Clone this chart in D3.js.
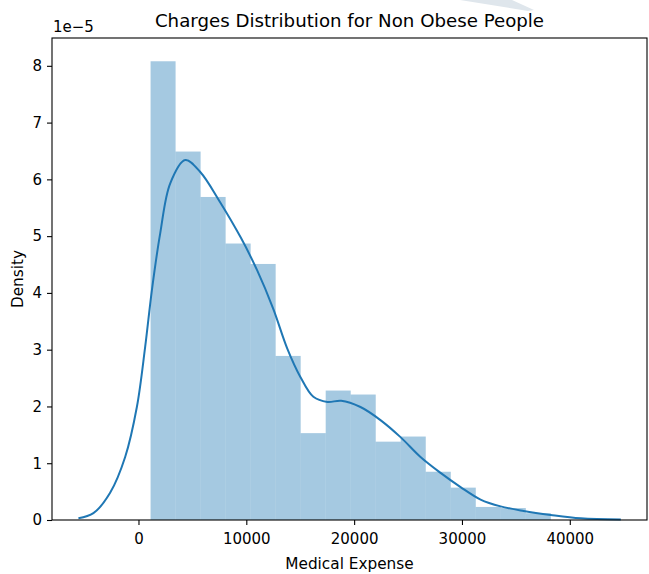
<!DOCTYPE html>
<html>
<head>
<meta charset="utf-8">
<script src="https://cdn.jsdelivr.net/npm/d3@7"></script>
<style>
  body { margin: 0; background: #fff; }
  svg { display: block; }
  text { font-family: "DejaVu Sans", sans-serif; fill: #000; }
</style>
</head>
<body>
<svg id="chart" width="649" height="574"></svg>
<script>
// histogram bins (charges) and heights, density in units of 1e-5
var binEdges = [1122, 3442, 5762, 8082, 10402, 12722, 15042, 17362, 19682,
                22002, 24322, 26642, 28962, 31282, 33602, 35922, 38242];
var binDensity = [8.08, 6.49, 5.69, 4.87, 4.51, 2.89, 1.53, 2.28,
                  2.21, 1.38, 1.47, 0.85, 0.57, 0.23, 0.21, 0.12];

// kde curve
var kdeX = [-5570, -4180, -2630, -1235, -150, 620, 1245, 2015, 2945, 4340, 5730,
            7500, 9500, 11000, 12500, 13800, 15015, 16220, 17520, 18800, 20585,
            22440, 24300, 26155, 28015, 29870, 31725, 33585, 35720, 38225, 41010, 44730];
var kdeY = [0.03, 0.12, 0.48, 1.11, 1.99, 3.05, 4.05, 5.05, 5.93, 6.34, 6.13,
            5.62, 4.97, 4.40, 3.72, 3.02, 2.52, 2.17, 2.08, 2.10, 1.99,
            1.76, 1.46, 1.11, 0.83, 0.58, 0.36, 0.24, 0.16, 0.09, 0.03, 0.01];

var xTicks = [0, 10000, 20000, 30000, 40000];
var yTicks = [0, 1, 2, 3, 4, 5, 6, 7, 8];

var margin = {top: 38, right: 2, bottom: 54, left: 52};
var W = 649, H = 574;
var width = W - margin.left - margin.right;
var height = H - margin.top - margin.bottom;

var svg = d3.select("#chart");

// faint artifact at the top of the screenshot
svg.append("path")
    .attr("d", "M460,0 L512,0 L534,10 L528,11 Z")
    .attr("fill", "#dfe6ec");

var g = svg.append("g")
    .attr("transform", "translate(" + margin.left + "," + margin.top + ")");

var x = d3.scaleLinear().domain([-8020, 47160]).range([0, width]);
var y = d3.scaleLinear().domain([0, 8.49]).range([height, 0]);

// bars
var bins = binDensity.map(function(v, i){
    return {x0: binEdges[i], x1: binEdges[i + 1], v: v};
});
g.selectAll("rect.bar")
    .data(bins)
  .enter().append("rect")
    .attr("class", "bar")
    .attr("x", function(d){ return x(d.x0); })
    .attr("width", function(d){ return x(d.x1) - x(d.x0); })
    .attr("y", function(d){ return y(d.v); })
    .attr("height", function(d){ return y(0) - y(d.v); })
    .attr("fill", "#1f77b4")
    .attr("fill-opacity", 0.4);

// kde line
var kde = kdeX.map(function(v, i){ return [v, kdeY[i]]; });
var line = d3.line()
    .x(function(d){ return x(d[0]); })
    .y(function(d){ return y(d[1]); })
    .curve(d3.curveCatmullRom.alpha(0.5));
g.append("path")
    .datum(kde)
    .attr("fill", "none")
    .attr("stroke", "#1f77b4")
    .attr("stroke-width", 2)
    .attr("d", line);

// axes
var xAxis = g.append("g")
    .attr("transform", "translate(0," + height + ")")
    .call(d3.axisBottom(x).tickValues(xTicks).tickFormat(d3.format("d"))
        .tickSizeOuter(0).tickSize(5).tickPadding(8));
var yAxis = g.append("g")
    .call(d3.axisLeft(y).tickValues(yTicks).tickFormat(d3.format("d"))
        .tickSizeOuter(0).tickSize(5).tickPadding(5));
[xAxis, yAxis].forEach(function(a){
    a.select(".domain").remove();
    a.selectAll("text").style("font-size", "15px").style("font-family", "DejaVu Sans").attr("fill", "#000");
    a.selectAll("line").attr("stroke", "#000").attr("stroke-width", 1.1);
});

// frame
g.append("rect")
    .attr("x", 0).attr("y", 0)
    .attr("width", width).attr("height", height)
    .attr("fill", "none")
    .attr("stroke", "#000")
    .attr("stroke-width", 1.1);

// labels
svg.append("text")
    .attr("x", margin.left + width / 2).attr("y", 27)
    .attr("text-anchor", "middle")
    .style("font-size", "18.2px")
    .text("Charges Distribution for Non Obese People");

svg.append("text")
    .attr("x", margin.left + 1).attr("y", 32)
    .style("font-size", "15px")
    .text("1e\u22125");

svg.append("text")
    .attr("x", margin.left + width / 2).attr("y", 569)
    .attr("text-anchor", "middle")
    .style("font-size", "15.3px")
    .text("Medical Expense");

svg.append("text")
    .attr("transform", "translate(23," + (margin.top + height / 2) + ") rotate(-90)")
    .attr("text-anchor", "middle")
    .style("font-size", "15.3px")
    .text("Density");
</script>
</body>
</html>
